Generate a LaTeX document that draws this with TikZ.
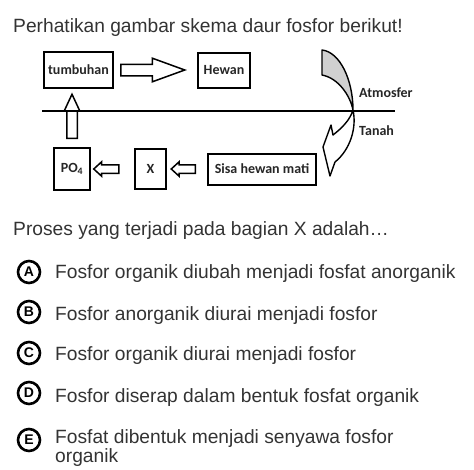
\documentclass[tikz,border=0pt]{standalone}
\usepackage{fontspec}
\setmainfont{Liberation Sans}
\newfontfamily\diagfont{Carlito}
\usetikzlibrary{positioning,shapes.arrows,calc}
\definecolor{qtext}{HTML}{333333}
\definecolor{backface}{HTML}{D0D0D0}

\begin{document}
\begin{tikzpicture}[
  x=1pt, y=-1pt,
  qtxt/.style={text=qtext, font=\fontsize{19.2}{18.5}\selectfont, inner sep=0pt, anchor=base west},
  sbox/.style={draw=black, line width=2pt, inner sep=0pt, text=black!85,
               font=\diagfont\bfseries\fontsize{14}{14}\selectfont},
  lab/.style={text=black!85, inner sep=0pt, anchor=west,
              font=\diagfont\bfseries\fontsize{14}{14}\selectfont},
  barr/.style={single arrow, draw=black, line width=1.5pt, inner sep=0pt, fill=white, anchor=tail},
  optc/.style={circle, draw=black, line width=2.6pt, minimum size=22pt, inner sep=0pt,
               font=\bfseries\fontsize{14}{14}\selectfont},
  node distance=5mm
]
\path[use as bounding box] (0,0) rectangle (474,469);
% ----- question -----
\node[qtxt] (title) at (13,32) {Perhatikan gambar skema daur fosfor berikut!};
% ----- upper row -----
\node[sbox, minimum width=69pt, minimum height=36pt] (tumb) at (78.5,70) {tumbuhan};
\node[sbox, minimum width=52pt, minimum height=35pt, right=83pt of tumb] (hewan) {Hewan};
\node[barr, minimum height=64pt, inner ysep=5pt, single arrow head extend=6pt,
      single arrow tip angle=40] (a1) at ([xshift=6pt]tumb.east) {};
% ----- lower row -----
\node[sbox, minimum width=108pt, minimum height=31pt] (sisa) at (262,169) {Sisa hewan mati};
\node[sbox, minimum width=31pt, minimum height=40pt, left=40pt of sisa] (xbox) {X};
\node[sbox, minimum width=36pt, minimum height=42pt, left=43pt of xbox] (po4) {PO\textsubscript{4}};
\node[barr, minimum height=24pt, inner ysep=3.5pt, single arrow head extend=3pt,
      single arrow tip angle=85, shape border rotate=180] (a3) at ([xshift=-11pt]sisa.west) {};
\node[barr, minimum height=25pt, inner ysep=3.5pt, single arrow head extend=3pt,
      single arrow tip angle=85, shape border rotate=180] (a2) at ([xshift=-14.5pt]xbox.west) {};
\node[barr, minimum height=44pt, inner xsep=4.5pt, single arrow head extend=2.5pt,
      single arrow tip angle=50, shape border rotate=90] (a0) at ([yshift=8pt]po4.north) {};
% ----- curved arrow, atmosphere to soil -----
\draw[line width=1.4pt, line join=round, fill=backface]
  (322,50) .. controls (340,52) and (353,80) .. (353,110)
  .. controls (350,95) and (338,78) .. (322,75) -- cycle;
\draw[line width=1.4pt, line join=round, fill=white]
  (353,110) .. controls (357,128) and (350,150) .. (335,162) -- (330,176) -- (323,147)
  -- (331,125) -- (333,135) .. controls (342,128) and (350,120) .. (353,110);
% ----- ground line -----
\coordinate (gl) at (42,111);
\coordinate (gr) at (395,111);
\draw[line width=2pt] (gl) -- (gr);
\node[lab] (atm) at (359,93) {Atmosfer};
\node[lab] (tanah) at (359,131) {Tanah};
% ----- answers -----
\node[qtxt] (quest) at (13,235) {Proses yang terjadi pada bagian X adalah…};
\foreach \k/\cy/\by/\t in {A/272/278/{Fosfor organik diubah menjadi fosfat anorganik},
    B/312/320/{Fosfor anorganik diurai menjadi fosfor},
    C/353/360/{Fosfor organik diurai menjadi fosfor},
    D/393/402/{Fosfor diserap dalam bentuk fosfat organik}}{
  \node[optc] (opt\k) at (29,\cy) {\k};
  \node[qtxt] (ans\k) at (55,\by) {\t};
}
\node[optc] (optE) at (29,440) {E};
\node[qtxt, align=left] (ansE) at (55,462) {Fosfat dibentuk menjadi senyawa fosfor\\organik};
\end{tikzpicture}
\end{document}
